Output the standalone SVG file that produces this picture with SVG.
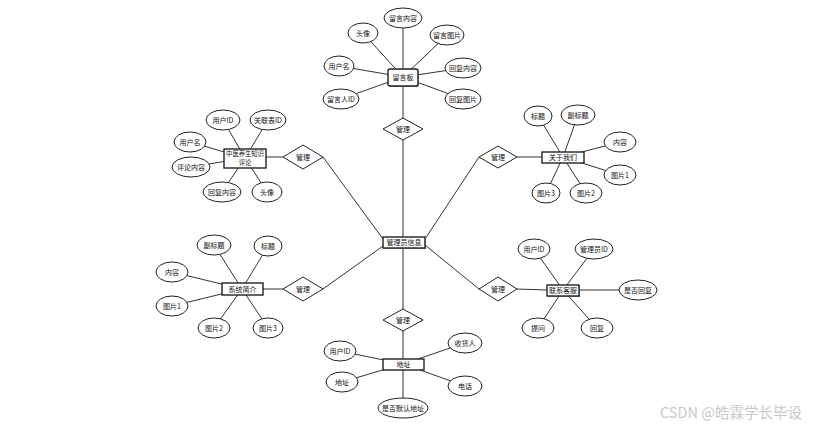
<svg xmlns="http://www.w3.org/2000/svg" width="819" height="431" viewBox="0 0 819 431">
<style>
.c line{stroke:#333;stroke-width:1;}
.a ellipse{fill:#fff;stroke:#222;stroke-width:1;}
.e rect.s{fill:#999;stroke:none;}
.e rect.b{fill:#fff;stroke:#222;stroke-width:1.4;}
.r polygon{fill:#fff;stroke:#222;stroke-width:1;}
text{font-family:"Noto Sans CJK SC","Liberation Sans",sans-serif;font-size:7px;fill:#111;text-anchor:middle;}
.sm{font-size:6.3px;}
.wm{font-size:14.5px;fill:#c8c8c8;text-anchor:start;}
</style>
<rect width="819" height="431" fill="#fff"/>
<g id="connectors" class="c">
<line x1="403" y1="86" x2="403" y2="359"/>
<line x1="266" y1="157" x2="283" y2="157"/>
<line x1="323" y1="157" x2="383" y2="239"/>
<line x1="479" y1="157" x2="425" y2="239"/>
<line x1="517" y1="157" x2="542" y2="157"/>
<line x1="263" y1="289" x2="283" y2="289"/>
<line x1="323" y1="289" x2="383" y2="246"/>
<line x1="425" y1="245" x2="479" y2="289"/>
<line x1="517" y1="289" x2="547" y2="290"/>
<line x1="403" y1="18" x2="403" y2="77"/>
<line x1="363" y1="33" x2="403" y2="77"/>
<line x1="447" y1="35" x2="403" y2="77"/>
<line x1="339" y1="66" x2="403" y2="77"/>
<line x1="463" y1="68" x2="403" y2="77"/>
<line x1="341" y1="99" x2="403" y2="77"/>
<line x1="463" y1="99" x2="403" y2="77"/>
<line x1="223" y1="120" x2="245" y2="158"/>
<line x1="268" y1="120" x2="245" y2="158"/>
<line x1="190" y1="142" x2="245" y2="158"/>
<line x1="191" y1="167" x2="245" y2="158"/>
<line x1="222" y1="192" x2="245" y2="158"/>
<line x1="267" y1="192" x2="245" y2="158"/>
<line x1="538" y1="116" x2="563" y2="157"/>
<line x1="578" y1="115" x2="563" y2="157"/>
<line x1="620" y1="142" x2="563" y2="157"/>
<line x1="620" y1="175" x2="563" y2="157"/>
<line x1="546" y1="193" x2="563" y2="157"/>
<line x1="586" y1="193" x2="563" y2="157"/>
<line x1="214" y1="245" x2="242" y2="289"/>
<line x1="268" y1="246" x2="242" y2="289"/>
<line x1="172" y1="272" x2="242" y2="289"/>
<line x1="172" y1="306" x2="242" y2="289"/>
<line x1="214" y1="328" x2="242" y2="289"/>
<line x1="268" y1="328" x2="242" y2="289"/>
<line x1="534" y1="249" x2="563" y2="290"/>
<line x1="594" y1="249" x2="563" y2="290"/>
<line x1="638" y1="290" x2="563" y2="290"/>
<line x1="538" y1="328" x2="563" y2="290"/>
<line x1="597" y1="328" x2="563" y2="290"/>
<line x1="340" y1="351" x2="403" y2="364"/>
<line x1="342" y1="382" x2="403" y2="364"/>
<line x1="403" y1="408" x2="403" y2="364"/>
<line x1="465" y1="343" x2="403" y2="364"/>
<line x1="465" y1="386" x2="403" y2="364"/>
</g>
<g id="rel1" class="r"><polygon points="403,118 423,129 403,140 383,129"/><text x="403" y="131.5">管理</text></g>
<g id="rel2" class="r"><polygon points="303,145 323,157 303,169 283,157"/><text x="303" y="159.5">管理</text></g>
<g id="rel3" class="r"><polygon points="498,146 517,157 498,168 479,157"/><text x="498" y="159.5">管理</text></g>
<g id="rel4" class="r"><polygon points="303,277 323,289 303,301 283,289"/><text x="303" y="291.5">管理</text></g>
<g id="rel5" class="r"><polygon points="498,277 517,289 498,301 479,289"/><text x="498" y="291.5">管理</text></g>
<g id="rel6" class="r"><polygon points="403,309 423,320 403,331 383,320"/><text x="403" y="322.5">管理</text></g>
<g id="attrs-liuyan" class="a">
<ellipse cx="403" cy="18" rx="19" ry="10"/><text x="403" y="20.5">留言内容</text>
<ellipse cx="363" cy="33" rx="15" ry="10"/><text x="363" y="35.5">头像</text>
<ellipse cx="447" cy="35" rx="17" ry="10"/><text x="447" y="37.5">留言图片</text>
<ellipse cx="339" cy="66" rx="15" ry="10"/><text x="339" y="68.5">用户名</text>
<ellipse cx="463" cy="68" rx="18" ry="10"/><text x="463" y="70.5">回复内容</text>
<ellipse cx="341" cy="99" rx="18" ry="10"/><text x="341" y="101.5">留言人ID</text>
<ellipse cx="463" cy="99" rx="18" ry="10"/><text x="463" y="101.5">回复图片</text>
</g>
<g id="attrs-pinglun" class="a">
<ellipse cx="223" cy="120" rx="17" ry="10"/><text x="223" y="122.5">用户ID</text>
<ellipse cx="268" cy="120" rx="18" ry="10"/><text x="268" y="122.5">关联表ID</text>
<ellipse cx="190" cy="142" rx="16" ry="10"/><text x="190" y="144.5">用户名</text>
<ellipse cx="191" cy="167" rx="19" ry="10"/><text x="191" y="169.5">评论内容</text>
<ellipse cx="222" cy="192" rx="19" ry="10"/><text x="222" y="194.5">回复内容</text>
<ellipse cx="267" cy="192" rx="15" ry="10"/><text x="267" y="194.5">头像</text>
</g>
<g id="attrs-guanyu" class="a">
<ellipse cx="538" cy="116" rx="14" ry="10"/><text x="538" y="118.5">标题</text>
<ellipse cx="578" cy="115" rx="17" ry="10"/><text x="578" y="117.5">副标题</text>
<ellipse cx="620" cy="142" rx="16" ry="10"/><text x="620" y="144.5">内容</text>
<ellipse cx="620" cy="175" rx="16" ry="10"/><text x="620" y="177.5">图片1</text>
<ellipse cx="546" cy="193" rx="14" ry="10"/><text x="546" y="195.5">图片3</text>
<ellipse cx="586" cy="193" rx="16" ry="10"/><text x="586" y="195.5">图片2</text>
</g>
<g id="attrs-jianjie" class="a">
<ellipse cx="214" cy="245" rx="17" ry="10"/><text x="214" y="247.5">副标题</text>
<ellipse cx="268" cy="246" rx="14" ry="10"/><text x="268" y="248.5">标题</text>
<ellipse cx="172" cy="272" rx="16" ry="10"/><text x="172" y="274.5">内容</text>
<ellipse cx="172" cy="306" rx="16" ry="10"/><text x="172" y="308.5">图片1</text>
<ellipse cx="214" cy="328" rx="16" ry="10"/><text x="214" y="330.5">图片2</text>
<ellipse cx="268" cy="328" rx="15" ry="10"/><text x="268" y="330.5">图片3</text>
</g>
<g id="attrs-kefu" class="a">
<ellipse cx="534" cy="249" rx="16" ry="10"/><text x="534" y="251.5">用户ID</text>
<ellipse cx="594" cy="249" rx="19" ry="10"/><text x="594" y="251.5">管理员ID</text>
<ellipse cx="638" cy="290" rx="19" ry="10"/><text x="638" y="292.5">是否回复</text>
<ellipse cx="538" cy="328" rx="16" ry="10"/><text x="538" y="330.5">提问</text>
<ellipse cx="597" cy="328" rx="16" ry="10"/><text x="597" y="330.5">回复</text>
</g>
<g id="attrs-dizhi" class="a">
<ellipse cx="340" cy="351" rx="16" ry="10"/><text x="340" y="353.5">用户ID</text>
<ellipse cx="342" cy="382" rx="16" ry="10"/><text x="342" y="384.5">地址</text>
<ellipse cx="403" cy="408" rx="25" ry="10"/><text x="403" y="410.5">是否默认地址</text>
<ellipse cx="465" cy="343" rx="17" ry="10"/><text x="465" y="345.5">收货人</text>
<ellipse cx="465" cy="386" rx="17" ry="10"/><text x="465" y="388.5">电话</text>
</g>
<g id="ent-liuyanban" class="e"><rect class="s" x="389" y="70" width="30" height="17" rx="2"/><rect class="b" x="388" y="69" width="30" height="17" rx="2"/><text x="403" y="80">留言板</text></g>
<g id="ent-pinglun" class="e"><rect class="b" x="224" y="149" width="42" height="19"/><text class="sm" x="245" y="156.2">中医养生知识</text><text class="sm" x="245" y="165">评论</text></g>
<g id="ent-guanyu" class="e"><rect class="b" x="542" y="152" width="42" height="11"/><text x="563" y="160">关于我们</text></g>
<g id="ent-admin" class="e"><rect class="s" x="384" y="238" width="42" height="11"/><rect class="b" x="383" y="237" width="42" height="11"/><text x="404" y="245">管理员信息</text></g>
<g id="ent-jianjie" class="e"><rect class="b" x="222" y="283" width="41" height="12"/><text x="242.5" y="291.5">系统简介</text></g>
<g id="ent-kefu" class="e"><rect class="s" x="548" y="286" width="32" height="11"/><rect class="b" x="547" y="285" width="32" height="11"/><text x="563" y="293">联系客服</text></g>
<g id="ent-dizhi" class="e"><rect class="b" x="383" y="359" width="41" height="11"/><text x="403.5" y="367">地址</text></g>
<text class="wm" x="660" y="418">CSDN @皓霖学长毕设</text>
</svg>
